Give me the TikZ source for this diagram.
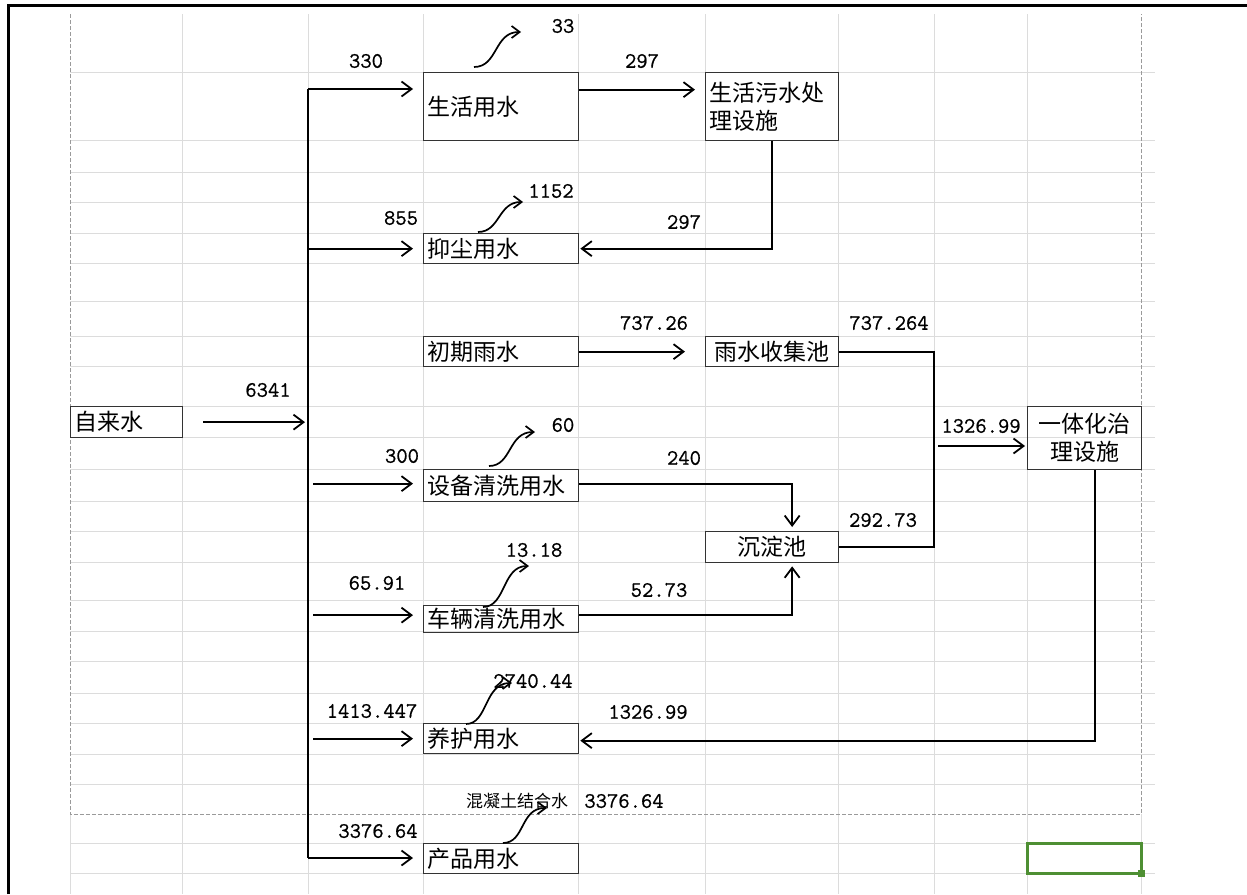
\documentclass[tikz,border=0pt]{standalone}
\usepackage{fontspec}
\newfontfamily\cjk{Noto Sans CJK SC}
\newfontfamily\numfont{lmmono12-regular.otf}[FakeBold=0.8]
\usetikzlibrary{arrows.meta}
\definecolor{gridgray}{HTML}{DCDCDC}
\definecolor{dashgray}{HTML}{9A9A9A}
\definecolor{cellgreen}{HTML}{4E8F33}
\tikzset{
  box/.style={draw=black!80, line width=1.3pt, inner sep=0pt, anchor=north west, font=\cjk\fontsize{23}{28}\selectfont},
  lbox/.style={box, text width=#1, align=left, inner xsep=4pt},
  cbox/.style={box, align=center},
  num/.style={font=\numfont\fontsize{22}{26}\selectfont, inner sep=0pt},
  note/.style={font=\cjk\fontsize{17}{20}\selectfont, inner sep=0pt},
  flow/.style={line width=1.8pt, -{Straight Barb[length=10pt,width=15pt]}},
  pipe/.style={line width=1.8pt},
  wiggle/.style={line width=1.7pt, -{Straight Barb[length=8pt,width=12pt]}},
}

\begin{document}
\begin{tikzpicture}[x=1pt, y=-1pt]
			%%%%% START %%%%%
			\useasboundingbox (0,0) rectangle (1247,894);
			
			% sheet grid
			\foreach \gx in {182,308,423,578,705,838,934,1027}
				\draw[gridgray, line width=0.8pt] (\gx,14) -- (\gx,894);
			\draw[gridgray, line width=0.8pt] (70,814) -- (70,894);
			\draw[gridgray, line width=0.8pt] (1141,814) -- (1141,894);
			\foreach \gy in {72,140,172,202,233,263,301,336,366,406,437,469,501,531,562,600,631,661,693,723,754,784,843,873}
				\draw[gridgray, line width=0.8pt] (70,\gy) -- (1155,\gy);
			
			% print area
			\draw[dashgray, line width=1pt, dash pattern=on 4pt off 2pt] (70,14) -- (70,814) -- (1141,814) -- (1141,14);
			
			% frame
			\draw[line width=3pt] (8,894) -- (8,5) -- (1247,5);
			
			% selected cell
			\draw[cellgreen, line width=3pt] (1027,843) rectangle (1141,873);
			\fill[cellgreen] (1138,870) rectangle (1145,877);
			
			% boxes
			\node[lbox=104pt, minimum height=31pt] (zls) at (70,406) {自来水};
			\node[lbox=147pt, minimum height=68pt] (shys) at (423,72) {生活用水};
			\node[lbox=125pt, minimum height=68pt] (wscl) at (705,72) {生活污水处\\理设施};
			\node[lbox=147pt, minimum height=30pt] (yc) at (423,233) {抑尘用水};
			\node[lbox=147pt, minimum height=30pt] (cqys) at (423,336) {初期雨水};
			\node[cbox, minimum width=133pt, minimum height=30pt] (ysc) at (705,336) {雨水收集池};
			\node[cbox, minimum width=114pt, minimum height=63pt] (ythz) at (1027,406) {一体化治\\理设施};
			\node[lbox=147pt, minimum height=32pt] (sbqx) at (423,469) {设备清洗用水};
			\node[cbox, minimum width=133pt, minimum height=31pt] (cdc) at (705,531) {沉淀池};
			\node[lbox=147pt, minimum height=27pt] (clqx) at (423,605) {车辆清洗用水};
			\node[lbox=147pt, minimum height=30pt] (yhys) at (423,723) {养护用水};
			\node[lbox=147pt, minimum height=30pt] (cpys) at (423,843) {产品用水};
			
			% trunk
			\coordinate (trunk) at (308,89);
			\coordinate (trunkend) at (308,858);
			\coordinate (jn) at (934,446);
			\draw[pipe] (trunk) -- (trunkend);
			\draw[flow, shorten <=20pt, shorten >=3pt] (zls.east) -- (trunk |- zls.east);
			\draw[flow, shorten >=10pt] (trunk) -- (trunk -| shys.west);
			\draw[flow, shorten >=10pt] (trunk |- yc.west) -- (yc.west);
			\draw[flow, shorten <=5pt, shorten >=10pt] ([yshift=2pt]trunk |- sbqx.west) -- ([yshift=2pt]sbqx.west);
			\draw[flow, shorten <=5pt, shorten >=10pt] ([yshift=4pt]trunk |- clqx.west) -- ([yshift=4pt]clqx.west);
			\draw[flow, shorten <=5pt, shorten >=10pt] (trunk |- yhys.west) -- (yhys.west);
			\draw[flow, shorten >=10pt] (trunkend) -- (trunkend -| cpys.west);
			
			% links between units
			\draw[flow, shorten >=10pt] ([yshift=17pt]shys.east) -- ([yshift=17pt]wscl.west);
			\draw[flow, shorten >=1pt] (wscl.south) |- (yc.east);
			\draw[flow, shorten >=20pt] (cqys.east) -- (ysc.west);
			\draw[pipe] (ysc.east) -| (jn) |- (cdc.east);
			\draw[flow, shorten <=4pt, shorten >=2pt] (jn) -- (jn -| ythz.west);
			\draw[flow, shorten >=4pt] ([yshift=2pt]sbqx.east) -| ([xshift=20pt]cdc.north);
			\draw[flow, shorten >=3pt] ([yshift=4pt]clqx.east) -| ([xshift=20pt]cdc.south);
			\draw[pipe, -{Straight Barb[length=10pt,width=15pt]}, shorten >=1pt] ([xshift=10pt]ythz.south) |- ([yshift=-2pt]yhys.east);
			
			% losses
			\draw[wiggle] (474,67) .. controls (498,67) and (494,32) .. (521,32);
			\draw[wiggle] (478,232) .. controls (500,232) and (498,202) .. (523,202);
			\draw[wiggle] (489,466) .. controls (512,466) and (508,432) .. (535,432);
			\draw[wiggle] (483,607) .. controls (506,607) and (502,566) .. (529,566);
			\draw[wiggle] (466,724) .. controls (488,724) and (484,683) .. (512,683);
			\draw[wiggle] (503,843) .. controls (525,843) and (520,808) .. (547,808);
			
			% flow values
			\node[num] (v330) at (366,61) {330};
			\node[num] (v855) at (401,218) {855};
			\node[num] (v6341) at (268,390) {6341};
			\node[num] (v300) at (402,456) {300};
			\node[num] (v6591) at (377,583) {65.91};
			\node[num] (v1413) at (372,711) {1413.447};
			\node[num] (v3376a) at (378,831) {3376.64};
			\node[num] (v33) at (563,26) {33};
			\node[num] (v297a) at (642,61) {297};
			\node[num] (v1152) at (551,191) {1152};
			\node[num] (v297b) at (684,222) {297};
			\node[num] (v73726) at (654,323) {737.26};
			\node[num] (v737264) at (889,323) {737.264};
			\node[num] (v60) at (563,425) {60};
			\node[num] (v240) at (684,458) {240};
			\node[num] (v1326a) at (981,426) {1326.99};
			\node[num] (v29273) at (883,520) {292.73};
			\node[num] (v1318) at (534,550) {13.18};
			\node[num] (v5273) at (659,590) {52.73};
			\node[num] (v2740) at (533,681) {2740.44};
			\node[num] (v1326b) at (648,712) {1326.99};
			\node[note] (jhs) at (517,801) {混凝土结合水};
			\node[num] (v3376b) at (624,801) {3376.64};
			
			%%%%% END %%%%%
\end{tikzpicture}
\end{document}
